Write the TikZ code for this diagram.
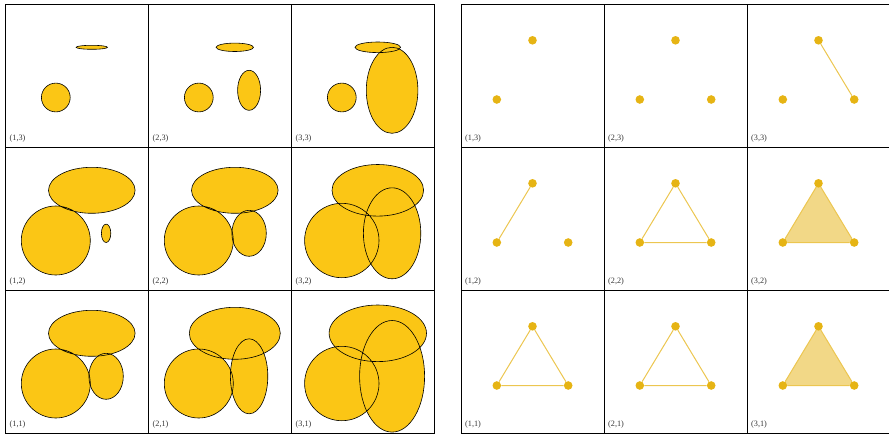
\documentclass[tikz,border=0pt]{standalone}
\usepackage{fontspec}
\setmainfont{Liberation Serif}
\usetikzlibrary{backgrounds}
\definecolor{balgeel}{RGB}{251,198,21}
\definecolor{puntgeel}{RGB}{230,180,20}
\definecolor{lijngeel}{RGB}{236,198,80}
\definecolor{vlakgeel}{RGB}{242,216,135}
\begin{document}
\begin{tikzpicture}[x=1pt,y=-1pt]

% --- Stijlen ---
\tikzset{
    bol/.style={fill=balgeel},
    rand/.style={draw=black, line width=0.6pt},
    punt/.style={circle, fill=puntgeel, inner sep=0pt, minimum size=8.6pt},
    ribbe/.style={draw=lijngeel, line width=1pt},
    vlak/.style={fill=vlakgeel},
    rooster/.style={draw=black, line width=0.8pt},
    tekstje/.style={
        font=\fontsize{8.2}{9}\selectfont,
        text=black!80,
        inner sep=0pt,
        anchor=base west
    }
}

\useasboundingbox (0,0) rectangle (889,434);

% --- Ballen (links) ---
\foreach \kol/\rij/\ra/\ha/\hb/\va/\vb in {
    1/3/14.4/15.7/2/0/0,        2/3/14.4/18.7/4.2/11.5/20,    3/3/14.4/22.8/5.3/25.8/43,
    1/2/34.5/43.3/23/4.7/9.2,   2/2/34.5/43.3/23/17.2/23,     3/2/37.2/45.8/25.8/28.7/45.5,
    1/1/34.5/43.3/23/17.2/23,   2/1/34.5/45.5/26/18.7/37.5,   3/1/37.2/48.7/28.3/32.5/55.8} {
  \begin{scope}[shift={({5.5+143*(\kol-1)},{4.5+143*(3-\rij)})}]
    \draw[rooster] (0,0) rectangle (143,143);
    \fill[bol] (50.3,93) circle[radius=\ra pt]
               (86.3,42.8) ellipse[x radius=\ha pt, y radius=\hb pt];
    \ifdim\va pt>0pt \fill[bol] (100.6,85.8) ellipse[x radius=\va pt, y radius=\vb pt]; \fi
    \draw[rand] (50.3,93) circle[radius=\ra pt]
                (86.3,42.8) ellipse[x radius=\ha pt, y radius=\hb pt];
    \ifdim\va pt>0pt \draw[rand] (100.6,85.8) ellipse[x radius=\va pt, y radius=\vb pt]; \fi
    \node[tekstje] (bl\kol\rij) at (4,135.7) {(\kol,\rij)};
  \end{scope}
}

% --- Zenuw (rechts) ---
\foreach \kol in {1,2,3} \foreach \rij in {1,2,3} {
  \begin{scope}[shift={({461+143*(\kol-1)},{4.5+143*(3-\rij)})}]
    \draw[rooster] (0,0) rectangle (143,143);
    \node[punt] (t\kol\rij) at (71.5,35.8) {};
    \node[punt] (l\kol\rij) at (35.8,95) {};
    \ifnum\kol\rij=13 \else \node[punt] (r\kol\rij) at (107.2,95) {}; \fi
    \node[tekstje] (zl\kol\rij) at (4,135.7) {(\kol,\rij)};
  \end{scope}
}

% --- Driehoeken ---
\begin{scope}[on background layer]
\fill[vlak] (t32.center) -- (l32.center) -- (r32.center) -- cycle;
\fill[vlak] (t31.center) -- (l31.center) -- (r31.center) -- cycle;
\end{scope}

% --- Ribben ---
\draw[ribbe] (t33) -- (r33);
\draw[ribbe] (t12) -- (l12);
\draw[ribbe] (t22) -- (l22) (l22) -- (r22) (r22) -- (t22);
\draw[ribbe] (t32) -- (l32) (l32) -- (r32) (r32) -- (t32);
\draw[ribbe] (t11) -- (l11) (l11) -- (r11) (r11) -- (t11);
\draw[ribbe] (t21) -- (l21) (l21) -- (r21) (r21) -- (t21);
\draw[ribbe] (t31) -- (l31) (l31) -- (r31) (r31) -- (t31);
\end{tikzpicture}
\end{document}
